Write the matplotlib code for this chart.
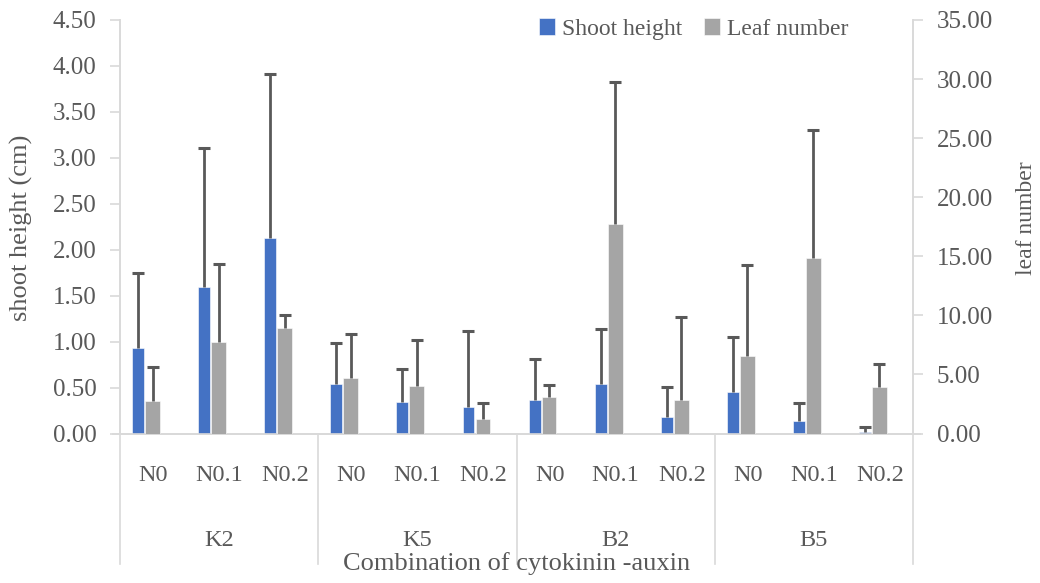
import matplotlib
matplotlib.use("Agg")
import matplotlib.pyplot as plt
import numpy as np

# data
groups = ["K2", "K5", "B2", "B5"]
levels = ["N0", "N0.1", "N0.2"]
shoot_height = [0.93, 1.59, 2.13, 0.54, 0.34, 0.29, 0.36, 0.54, 0.18, 0.45, 0.14, 0.02]
shoot_err = [0.82, 1.52, 1.78, 0.45, 0.36, 0.83, 0.45, 0.60, 0.33, 0.60, 0.19, 0.05]
leaf_number = [2.73, 7.72, 8.96, 4.68, 4.00, 1.21, 3.07, 17.75, 2.87, 6.56, 14.82, 3.91]
leaf_err = [2.90, 6.65, 1.10, 3.77, 3.89, 1.41, 1.07, 12.01, 6.96, 7.67, 10.85, 1.95]

blue = "#4472C4"
grey = "#A5A5A5"
err_col = "#595959"
txt_col = "#595959"
line_col = "#D9D9D9"

plt.rcParams["font.family"] = ["Liberation Serif", "DejaVu Serif"]

fig = plt.figure(figsize=(10.4, 5.83), dpi=100)
ax = fig.add_axes([0.1154, 0.2564, 0.7625, 0.7093])
ax2 = ax.twinx()

n = len(shoot_height)
x = np.arange(n)


def bars_with_error(a, xs, vals, errs, width, color, label):
    vals = np.asarray(vals)
    tops = vals + np.asarray(errs)
    a.bar(xs, vals, width=width, color=color, edgecolor="white", linewidth=0.4,
          label=label, zorder=3)
    # upper-only error bars, as in the original chart
    a.vlines(xs, vals, tops, color=err_col, lw=2, zorder=4)
    a.plot(xs, tops, ls="none", marker="_", ms=9, mew=2.2, color=err_col, zorder=4)


bars_with_error(ax, x - 0.227, shoot_height, shoot_err, 0.18, blue, "Shoot height")
bars_with_error(ax2, x - 0.008, leaf_number, leaf_err, 0.225, grey, "Leaf number")

ax.set_xlim(-0.5, n - 0.5)
ax.set_ylim(0, 4.5)
ax2.set_ylim(0, 35)
ax.set_yticks(np.arange(0, 4.51, 0.5))
ax2.set_yticks(np.arange(0, 35.1, 5))
ax.set_yticklabels([f"{v:.2f}" for v in np.arange(0, 4.51, 0.5)])
ax2.set_yticklabels([f"{v:.2f}" for v in np.arange(0, 35.1, 5)])

for a in (ax, ax2):
    a.spines["top"].set_visible(False)
    for s in ("left", "right", "bottom"):
        a.spines[s].set_color(line_col)
        a.spines[s].set_linewidth(1.2)
    a.tick_params(axis="y", colors=line_col, labelcolor=txt_col, labelsize=18,
                  length=7, width=1.2, pad=10)
    a.set_xticks([])

# multi-level category axis
trans = ax.get_xaxis_transform()
for i, lab in enumerate(levels * len(groups)):
    ax.text(i, -0.115, lab, transform=trans, ha="center", va="baseline",
            fontsize=17.5, color=txt_col)
for g, lab in enumerate(groups):
    ax.text(g * 3 + 1, -0.272, lab, transform=trans, ha="center", va="baseline",
            fontsize=17.5, color=txt_col)
for g in range(len(groups) + 1):
    ax.plot([g * 3 - 0.5, g * 3 - 0.5], [0, -0.316], transform=trans, color=line_col,
            lw=1.2, clip_on=False)
ax.plot([-0.6, n - 0.4], [0, 0], transform=trans, color=line_col, lw=1.2, clip_on=False)

ax.text(0.5, -0.330, "Combination of cytokinin -auxin", transform=ax.transAxes,
        ha="center", va="baseline", fontsize=19, color=txt_col)
fig.text(0.021, 0.61, "shoot height (cm)", rotation=90, ha="center", va="center",
         fontsize=19, color=txt_col)
fig.text(0.987, 0.626, "leaf number", rotation=90, ha="center", va="center",
         fontsize=17, color=txt_col)

h1, l1 = ax.get_legend_handles_labels()
h2, l2 = ax2.get_legend_handles_labels()
leg = fig.legend(h1 + h2, l1 + l2, loc="center", bbox_to_anchor=(0.667, 0.950), ncol=2,
                 frameon=False, fontsize=17, handlelength=0.7, handleheight=0.7,
                 handletextpad=0.3, columnspacing=0.9, borderaxespad=0)
for t in leg.get_texts():
    t.set_color(txt_col)

fig.savefig("out.png", dpi=100)
